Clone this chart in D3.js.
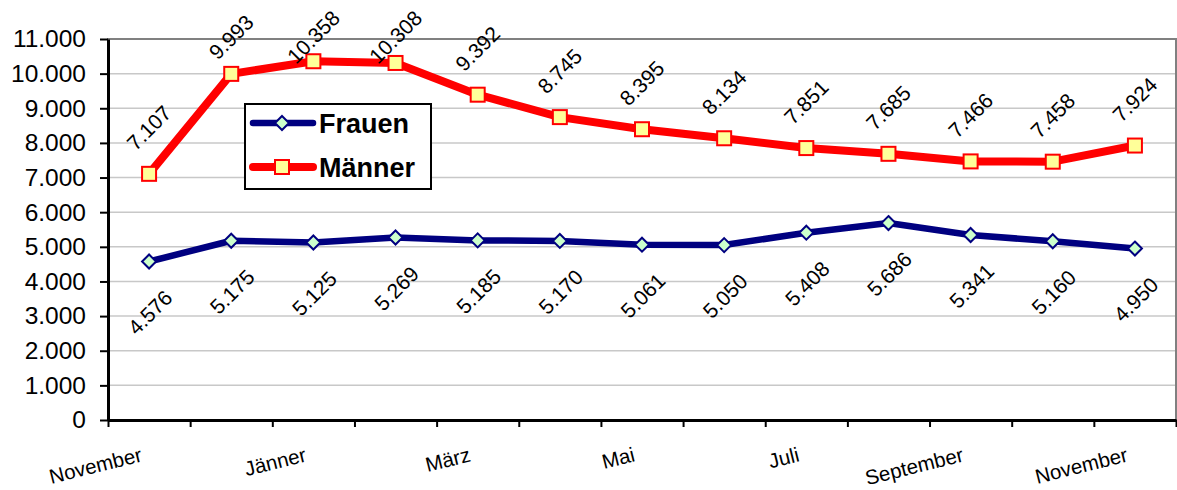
<!DOCTYPE html>
<html>
<head>
<meta charset="utf-8">
<script src="https://cdn.jsdelivr.net/npm/d3@7"></script>
<style>
  body { margin: 0; background: #fff; }
  svg { display: block; font-family: "Liberation Sans", Arial, sans-serif; }
</style>
</head>
<body>
<svg id="chart" width="1177" height="490"></svg>
<script>
// months, one per point (the first and last are both November)
const months = ['November', 'Dezember', 'Jänner', 'Februar', 'März', 'April', 'Mai',
  'Juni', 'Juli', 'August', 'September', 'Oktober', 'November'];
const frauen = [4576, 5175, 5125, 5269, 5185, 5170, 5061, 5050, 5408, 5686, 5341, 5160, 4950];
const maenner = [7107, 9993, 10358, 10308, 9392, 8745, 8395, 8134, 7851, 7685, 7466, 7458, 7924];
const yTicks = [0, 1000, 2000, 3000, 4000, 5000, 6000, 7000, 8000, 9000, 10000, 11000];
const labelEvery = 2;

const width = 1177, height = 490;
const margin = { top: 39, right: 1, bottom: 70, left: 108 };

const de = d3.formatLocale({ decimal: ',', thousands: '.', grouping: [3], currency: ['', ' €'] });
const fmt = de.format(',d');

const svg = d3.select('#chart');

const x = d3.scaleLinear()
  .domain([0, months.length])
  .range([margin.left, width - margin.right]);

const y = d3.scaleLinear()
  .domain([0, 11000])
  .range([height - margin.bottom, margin.top]);

// gridlines
svg.append('g')
  .selectAll('line')
  .data(yTicks.filter(d => d > 0 && d < 11000))
  .join('line')
  .attr('x1', x(0))
  .attr('x2', x(months.length))
  .attr('y1', d => y(d))
  .attr('y2', d => y(d))
  .attr('stroke', '#c8c8c8')
  .attr('stroke-width', 1.5);

// plot area border (grey top + right)
svg.append('rect')
  .attr('x', x(0))
  .attr('y', y(11000))
  .attr('width', x(months.length) - x(0))
  .attr('height', y(0) - y(11000))
  .attr('fill', 'none')
  .attr('stroke', '#808080')
  .attr('stroke-width', 2);

// y axis
const yAxis = svg.append('g')
  .attr('transform', `translate(${x(0)},0)`)
  .call(d3.axisLeft(y).tickValues(yTicks).tickFormat(fmt).tickSize(8).tickSizeOuter(0).tickPadding(14));
yAxis.select('.domain').attr('stroke', '#000').attr('stroke-width', 3);
yAxis.selectAll('.tick line').attr('stroke', '#000').attr('stroke-width', 2);
yAxis.selectAll('text').attr('font-size', 24.5).attr('fill', '#000')
  .attr('font-family', '"Liberation Sans", Arial, sans-serif');

// x axis: ticks between the months
const xAxis = svg.append('g')
  .attr('transform', `translate(0,${y(0)})`)
  .call(d3.axisBottom(x).tickValues(d3.range(months.length + 1)).tickFormat('').tickSize(7).tickSizeOuter(0));
xAxis.select('.domain').attr('stroke', '#000').attr('stroke-width', 3);
xAxis.selectAll('.tick line').attr('stroke', '#000').attr('stroke-width', 2);

// month labels, every other one, tilted
svg.append('g')
  .selectAll('text')
  .data(months.map((m, i) => ({ m, i })).filter(d => d.i % labelEvery === 0))
  .join('text')
  .attr('transform', d => `translate(${x(d.i + 0.5) - 6},${y(0) + 41}) rotate(-14)`)
  .attr('text-anchor', 'end')
  .attr('font-size', 20.5)
  .attr('fill', '#000')
  .text(d => d.m);

const line = d3.line()
  .x((d, i) => x(i + 0.5))
  .y(d => y(d));

// Frauen
svg.append('path')
  .attr('d', line(frauen))
  .attr('fill', 'none')
  .attr('stroke', '#000080')
  .attr('stroke-width', 6.5)
  .attr('stroke-linejoin', 'round');

svg.append('g')
  .selectAll('path')
  .data(frauen)
  .join('path')
  .attr('d', 'M0,-7L7,0L0,7L-7,0Z')
  .attr('transform', (d, i) => `translate(${x(i + 0.5)},${y(d)})`)
  .attr('fill', '#ccffcc')
  .attr('stroke', '#000080')
  .attr('stroke-width', 2);

// Männer
svg.append('path')
  .attr('d', line(maenner))
  .attr('fill', 'none')
  .attr('stroke', '#ff0000')
  .attr('stroke-width', 8)
  .attr('stroke-linejoin', 'round');

svg.append('g')
  .selectAll('rect')
  .data(maenner)
  .join('rect')
  .attr('x', (d, i) => x(i + 0.5) - 7)
  .attr('y', d => y(d) - 7)
  .attr('width', 14)
  .attr('height', 14)
  .attr('fill', '#ffff99')
  .attr('stroke', '#ff0000')
  .attr('stroke-width', 2);

// value labels, rotated 45°
svg.append('g')
  .selectAll('text')
  .data(maenner)
  .join('text')
  .attr('transform', (d, i) => `translate(${x(i + 0.5)},${Math.max(y(d) - 46, 37)}) rotate(-45)`)
  .attr('text-anchor', 'middle')
  .attr('dy', '0.35em')
  .attr('font-size', 21)
  .attr('fill', '#000')
  .text(d => fmt(d));

svg.append('g')
  .selectAll('text')
  .data(frauen)
  .join('text')
  .attr('transform', (d, i) => `translate(${x(i + 0.5) + 1},${y(d) + 51}) rotate(-45)`)
  .attr('text-anchor', 'middle')
  .attr('dy', '0.35em')
  .attr('font-size', 21)
  .attr('fill', '#000')
  .text(d => fmt(d));

// legend
const legend = svg.append('g').attr('transform', 'translate(245,104)');
legend.append('rect')
  .attr('width', 186)
  .attr('height', 85)
  .attr('fill', '#fff')
  .attr('stroke', '#000')
  .attr('stroke-width', 2);

const rows = legend.selectAll('g.row')
  .data([{ name: 'Frauen', color: '#000080', fill: '#ccffcc', shape: 'diamond', w: 6.5 },
         { name: 'Männer', color: '#ff0000', fill: '#ffff99', shape: 'square', w: 8 }])
  .join('g')
  .attr('class', 'row')
  .attr('transform', (d, i) => `translate(0,${19 + i * 44})`);

rows.append('line')
  .attr('x1', 8).attr('x2', 68)
  .attr('stroke', d => d.color)
  .attr('stroke-width', d => d.w)
  .attr('stroke-linecap', 'round');

rows.append('path')
  .attr('d', d => d.shape === 'diamond' ? 'M0,-7L7,0L0,7L-7,0Z' : 'M-7,-7H7V7H-7Z')
  .attr('transform', 'translate(37,0)')
  .attr('fill', d => d.fill)
  .attr('stroke', d => d.color)
  .attr('stroke-width', 2);

rows.append('text')
  .attr('x', 74)
  .attr('dy', '0.36em')
  .attr('font-size', 27)
  .attr('font-weight', 'bold')
  .attr('fill', '#000')
  .text(d => d.name);
</script>
</body>
</html>
